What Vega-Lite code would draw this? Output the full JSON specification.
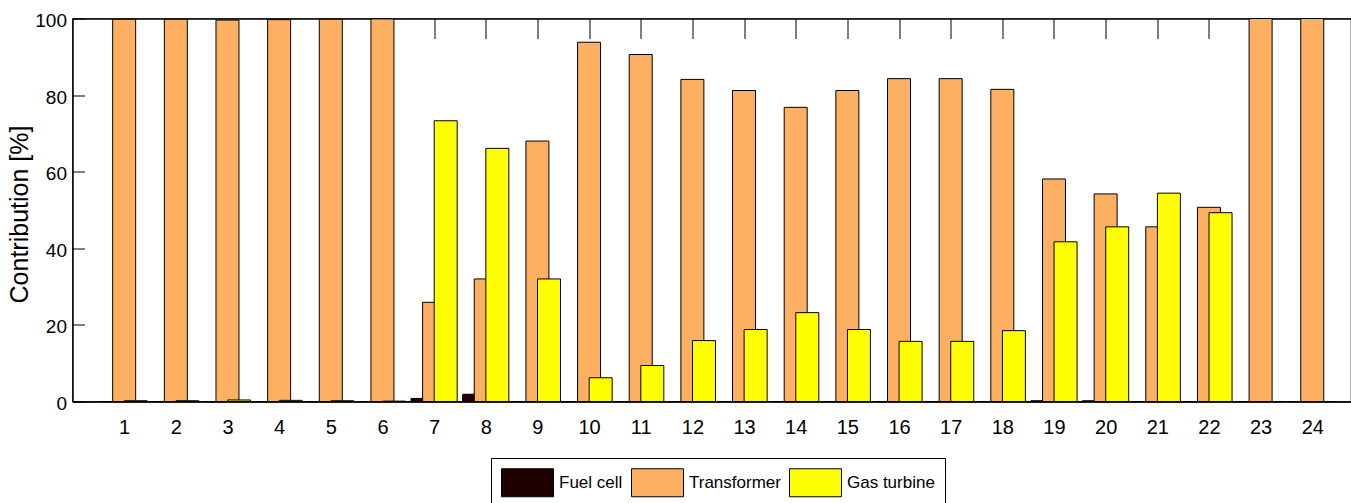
{
  "$schema": "https://vega.github.io/schema/vega-lite/v6.json",
  "width": 1278.5,
  "height": 383,
  "autosize": {"type": "none"},
  "padding": {"left": 72.5, "top": 18.5, "right": 0, "bottom": 101.5},
  "background": "white",
  "config": {
    "view": {"stroke": "#000", "strokeWidth": 1.2},
    "axis": {"labelFont": "Liberation Sans", "labelColor": "#000", "domainColor": "#000", "tickColor": "#000", "grid": false, "domain": true}
  },
  "data": {
    "values": [
      {"hour": 1, "source": "Fuel cell", "value": 0}, {"hour": 2, "source": "Fuel cell", "value": 0}, {"hour": 3, "source": "Fuel cell", "value": 0}, {"hour": 4, "source": "Fuel cell", "value": 0}, {"hour": 5, "source": "Fuel cell", "value": 0}, {"hour": 6, "source": "Fuel cell", "value": 0},
      {"hour": 7, "source": "Fuel cell", "value": 0.8}, {"hour": 8, "source": "Fuel cell", "value": 1.9}, {"hour": 9, "source": "Fuel cell", "value": 0}, {"hour": 10, "source": "Fuel cell", "value": 0}, {"hour": 11, "source": "Fuel cell", "value": 0}, {"hour": 12, "source": "Fuel cell", "value": 0},
      {"hour": 13, "source": "Fuel cell", "value": 0}, {"hour": 14, "source": "Fuel cell", "value": 0}, {"hour": 15, "source": "Fuel cell", "value": 0}, {"hour": 16, "source": "Fuel cell", "value": 0}, {"hour": 17, "source": "Fuel cell", "value": 0}, {"hour": 18, "source": "Fuel cell", "value": 0},
      {"hour": 19, "source": "Fuel cell", "value": 0.2}, {"hour": 20, "source": "Fuel cell", "value": 0.2}, {"hour": 21, "source": "Fuel cell", "value": 0}, {"hour": 22, "source": "Fuel cell", "value": 0}, {"hour": 23, "source": "Fuel cell", "value": 0}, {"hour": 24, "source": "Fuel cell", "value": 0},
      {"hour": 1, "source": "Transformer", "value": 99.8}, {"hour": 2, "source": "Transformer", "value": 99.8}, {"hour": 3, "source": "Transformer", "value": 99.6}, {"hour": 4, "source": "Transformer", "value": 99.7}, {"hour": 5, "source": "Transformer", "value": 99.8}, {"hour": 6, "source": "Transformer", "value": 99.9},
      {"hour": 7, "source": "Transformer", "value": 25.9}, {"hour": 8, "source": "Transformer", "value": 32.0}, {"hour": 9, "source": "Transformer", "value": 68.0}, {"hour": 10, "source": "Transformer", "value": 93.8}, {"hour": 11, "source": "Transformer", "value": 90.6}, {"hour": 12, "source": "Transformer", "value": 84.1},
      {"hour": 13, "source": "Transformer", "value": 81.2}, {"hour": 14, "source": "Transformer", "value": 76.8}, {"hour": 15, "source": "Transformer", "value": 81.2}, {"hour": 16, "source": "Transformer", "value": 84.3}, {"hour": 17, "source": "Transformer", "value": 84.3}, {"hour": 18, "source": "Transformer", "value": 81.5},
      {"hour": 19, "source": "Transformer", "value": 58.1}, {"hour": 20, "source": "Transformer", "value": 54.2}, {"hour": 21, "source": "Transformer", "value": 45.6}, {"hour": 22, "source": "Transformer", "value": 50.7}, {"hour": 23, "source": "Transformer", "value": 100}, {"hour": 24, "source": "Transformer", "value": 100},
      {"hour": 1, "source": "Gas turbine", "value": 0.2}, {"hour": 2, "source": "Gas turbine", "value": 0.2}, {"hour": 3, "source": "Gas turbine", "value": 0.4}, {"hour": 4, "source": "Gas turbine", "value": 0.3}, {"hour": 5, "source": "Gas turbine", "value": 0.2}, {"hour": 6, "source": "Gas turbine", "value": 0.1},
      {"hour": 7, "source": "Gas turbine", "value": 73.3}, {"hour": 8, "source": "Gas turbine", "value": 66.1}, {"hour": 9, "source": "Gas turbine", "value": 32.0}, {"hour": 10, "source": "Gas turbine", "value": 6.2}, {"hour": 11, "source": "Gas turbine", "value": 9.4}, {"hour": 12, "source": "Gas turbine", "value": 15.9},
      {"hour": 13, "source": "Gas turbine", "value": 18.8}, {"hour": 14, "source": "Gas turbine", "value": 23.2}, {"hour": 15, "source": "Gas turbine", "value": 18.8}, {"hour": 16, "source": "Gas turbine", "value": 15.7}, {"hour": 17, "source": "Gas turbine", "value": 15.7}, {"hour": 18, "source": "Gas turbine", "value": 18.5},
      {"hour": 19, "source": "Gas turbine", "value": 41.7}, {"hour": 20, "source": "Gas turbine", "value": 45.6}, {"hour": 21, "source": "Gas turbine", "value": 54.4}, {"hour": 22, "source": "Gas turbine", "value": 49.3}, {"hour": 23, "source": "Gas turbine", "value": 0}, {"hour": 24, "source": "Gas turbine", "value": 0}
    ]
  },
  "resolve": {"axis": {"x": "independent", "y": "independent"}},
  "layer": [
    {
      "transform": [{"filter": "datum.source === 'Fuel cell'"}],
      "mark": {"type": "bar", "width": 23, "xOffset": -11.6, "stroke": "#000", "strokeWidth": 1},
      "encoding": {
        "x": {"field": "hour", "type": "quantitative", "scale": {"domain": [0, 24.75], "nice": false, "zero": false, "padding": 0},
          "axis": {"orient": "bottom", "values": [1,2,3,4,5,6,7,8,9,10,11,12,13,14,15,16,17,18,19,20,21,22,23,24], "format": "d", "ticks": false, "labelPadding": 16, "labelFontSize": 20, "domainWidth": 1.5, "title": null, "labelFlush": false, "labelOverlap": false}},
        "y": {"field": "value", "type": "quantitative", "scale": {"domain": [0, 100], "nice": false, "padding": 0},
          "axis": {"values": [0, 20, 40, 60, 80, 100], "domain": true, "domainWidth": 1.2, "tickSize": -12, "labelPadding": 18, "labelFontSize": 19, "labelOffset": 2, "labelFlush": false,
            "title": "Contribution [%]", "titleFont": "Liberation Sans", "titleFontSize": 25, "titleFontWeight": "normal", "titleColor": "#000",
            "titleX": -53, "titleY": 195.5, "titleAngle": -90, "titleAlign": "center", "titleBaseline": "middle"}},
        "color": {"field": "source", "type": "nominal",
          "scale": {"domain": ["Fuel cell", "Transformer", "Gas turbine"], "range": ["#210000", "#FEB062", "#FFFF00"]},
          "legend": {"orient": "none", "legendX": 418.5, "legendY": 439.5, "direction": "horizontal", "title": null,
            "symbolType": "M-1,-1H2.714V1H-1Z", "symbolSize": 784, "symbolStrokeColor": "#000", "symbolStrokeWidth": 1, "symbolOpacity": 1,
            "labelFont": "Liberation Sans", "labelFontSize": 17, "labelColor": "#000", "labelOffset": 29, "columnPadding": 6,
            "padding": 10, "strokeColor": "#000", "fillColor": "white"}}
      }
    },
    {
      "transform": [{"filter": "datum.source === 'Transformer'"}],
      "mark": {"type": "bar", "width": 23, "xOffset": 0, "stroke": "#000", "strokeWidth": 1},
      "encoding": {
        "x": {"field": "hour", "type": "quantitative", "scale": {"domain": [0, 24.75], "nice": false, "zero": false, "padding": 0},
          "axis": {"orient": "top", "values": [1,2,3,4,5,6,7,8,9,10,11,12,13,14,15,16,17,18,19,20,21,22,23,24], "labels": false, "tickSize": -20, "title": null}},
        "y": {"field": "value", "type": "quantitative", "scale": {"domain": [0, 100], "nice": false, "padding": 0}, "axis": null},
        "color": {"field": "source", "type": "nominal"}
      }
    },
    {
      "transform": [{"filter": "datum.source === 'Gas turbine'"}],
      "mark": {"type": "bar", "width": 23, "xOffset": 11.6, "stroke": "#000", "strokeWidth": 1},
      "encoding": {
        "x": {"field": "hour", "type": "quantitative", "scale": {"domain": [0, 24.75], "nice": false, "zero": false, "padding": 0}, "axis": null},
        "y": {"field": "value", "type": "quantitative", "scale": {"domain": [0, 100], "nice": false, "padding": 0}, "axis": null},
        "color": {"field": "source", "type": "nominal"}
      }
    }
  ]
}
